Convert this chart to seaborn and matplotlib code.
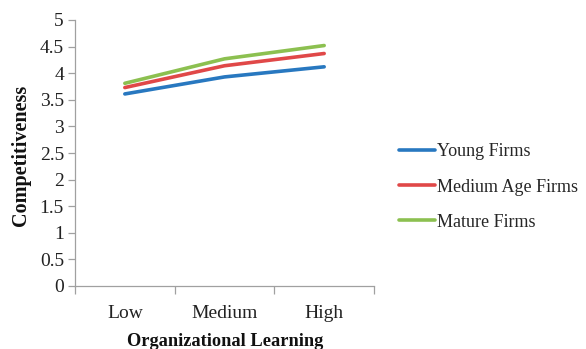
import matplotlib
matplotlib.use("Agg")
import matplotlib.pyplot as plt
import seaborn as sns
import pandas as pd

levels = ["Low", "Medium", "High"]
young = [3.61, 3.93, 4.12]
medium_age = [3.73, 4.14, 4.37]
mature = [3.81, 4.27, 4.52]
series_names = ["Young Firms", "Medium Age Firms", "Mature Firms"]
colors = ["#2878c0", "#e04848", "#8cc050"]

rows = []
for name, vals in zip(series_names, [young, medium_age, mature]):
    for i, (lvl, v) in enumerate(zip(levels, vals)):
        rows.append({"pos": i, "level": lvl, "value": v, "series": name})
df = pd.DataFrame(rows)

sns.set_style("white")
plt.rcParams["font.family"] = ["Liberation Serif", "DejaVu Serif"]

fig = plt.figure(figsize=(5.86, 3.49), dpi=100)
ax = fig.add_axes([75 / 586, 1 - 286 / 349, (374 - 75) / 586, (286 - 20) / 349])

sns.lineplot(data=df, x="pos", y="value", hue="series", hue_order=series_names,
             palette=colors, linewidth=2.6, ax=ax, legend=True)

ax.set_ylim(0, 5)
ax.set_yticks([0, 0.5, 1, 1.5, 2, 2.5, 3, 3.5, 4, 4.5, 5])
ax.set_yticklabels(["0", "0.5", "1", "1.5", "2", "2.5", "3", "3.5", "4", "4.5", "5"])
ax.set_xlim(-0.5, 2.5)
ax.set_xticks([0, 1, 2])
ax.set_xticklabels(levels)
ax.set_xticks([-0.5, 0.5, 1.5, 2.5], minor=True)
ax.tick_params(axis="x", which="major", bottom=False, length=0, pad=14,
               labelsize=14, labelcolor="#222222")
ax.tick_params(axis="x", which="minor", bottom=True, length=6, width=0.9,
               color="#a0a0a0", direction="out")
ax.tick_params(axis="y", left=True, length=5, width=0.9, color="#a0a0a0", direction="out",
               pad=3, labelsize=14, labelcolor="#222222")

for side in ["top", "right"]:
    ax.spines[side].set_visible(False)
for side in ["left", "bottom"]:
    ax.spines[side].set_color("#a0a0a0")
    ax.spines[side].set_linewidth(0.9)

ax.set_xlabel("")
ax.set_ylabel("")
fig.text(21 / 586, 1 - 155 / 349, "Competitiveness", rotation=90, ha="center", va="center",
         fontsize=14.5, fontweight="bold", color="#111111")
fig.text(225 / 586, 1 - 341 / 349, "Organizational Learning", ha="center", va="center",
         fontsize=13.2, fontweight="bold", color="#111111")

handles, labels = ax.get_legend_handles_labels()
ax.legend(handles, labels, loc="center left", bbox_to_anchor=(399 / 586, 1 - 187 / 349),
          bbox_transform=fig.transFigure, frameon=False, fontsize=13,
          handlelength=2.0, handletextpad=0.1, labelspacing=1.0, borderaxespad=0,
          borderpad=0)

fig.savefig("out.png", dpi=100)
